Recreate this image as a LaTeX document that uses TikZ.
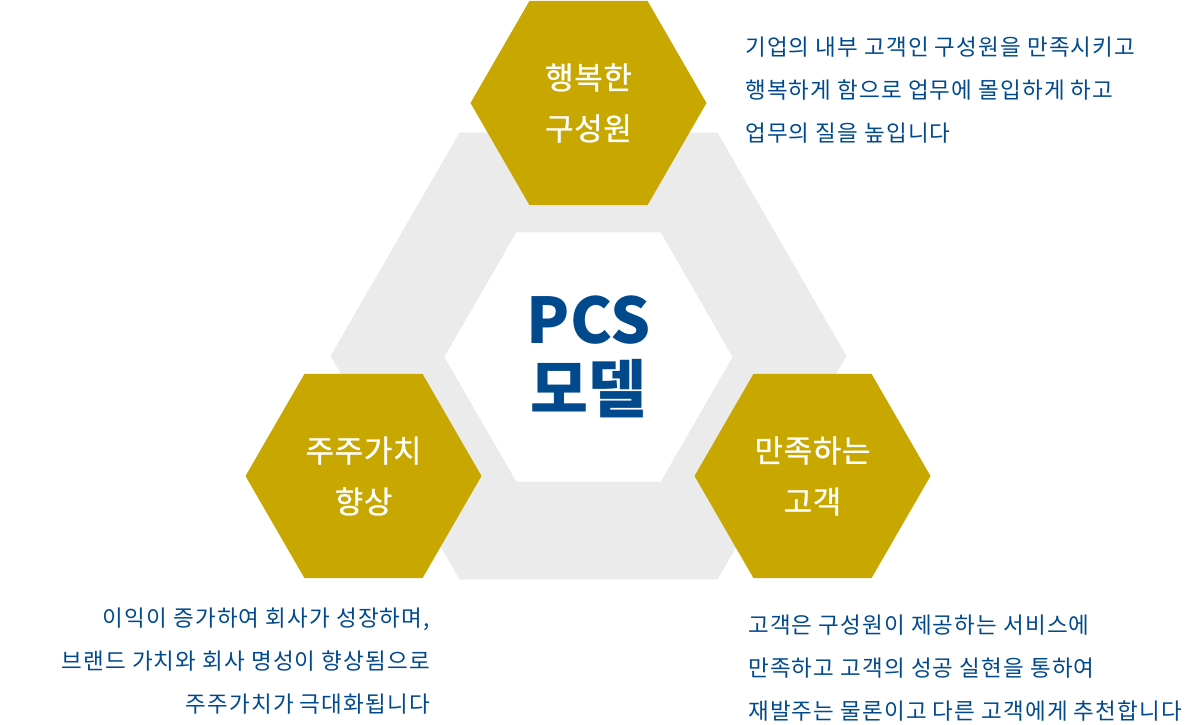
\documentclass[tikz,border=0pt]{standalone}
\usepackage{fontspec}
\setmainfont{Noto Sans CJK KR}
\newfontfamily\descfont[LetterSpace=5]{Noto Sans CJK KR}
\newfontfamily\hexfont[LetterSpace=2,FakeBold=0.8]{Noto Sans CJK KR}
\usetikzlibrary{shapes.geometric}
\definecolor{gold}{RGB}{200,168,0}
\definecolor{hexgray}{RGB}{235,235,235}
\definecolor{navy}{RGB}{0,73,140}
\begin{document}
\begin{tikzpicture}[x=1pt,y=-1pt,
  hexa/.style={regular polygon, regular polygon sides=6, inner sep=0pt, outer sep=0pt, draw=none},
  goldhex/.style={hexa, fill=gold, minimum size=236pt, text=white, align=center,
    font=\hexfont\fontsize{31}{51}\selectfont},
  desc/.style={text=navy, font=\descfont\fontsize{22.5}{43}\selectfont, inner sep=0pt}]
\useasboundingbox (0,0) rectangle (1186,724);
\node[hexa, fill=hexgray, minimum size=516pt] (ring) at (588.5,356) {};
\node[hexa, fill=white, minimum size=288pt, text=navy, align=center,
  font=\fontsize{63}{69}\selectfont\bfseries] (core) at (588.5,357) {PCS\\모델};
\node[goldhex] (staff) at (588.5,103) {행복한\\구성원};
\node[goldhex] (share) at (363.5,476) {주주가치\\향상};
\node[goldhex] (cust) at (812.5,476) {만족하는\\고객};
\node[desc, anchor=north west, align=left] (dstaff) at (745,37)
  {기업의 내부 고객인 구성원을 만족시키고\\행복하게 함으로 업무에 몰입하게 하고\\업무의 질을 높입니다};
\node[desc, anchor=north east, align=right] (dshare) at (430,608)
  {이익이 증가하여 회사가 성장하며,\\브랜드 가치와 회사 명성이 향상됨으로\\주주가치가 극대화됩니다};
\node[desc, anchor=north west, align=left] (dcust) at (748,615)
  {고객은 구성원이 제공하는 서비스에\\만족하고 고객의 성공 실현을 통하여\\재발주는 물론이고 다른 고객에게 추천합니다};
\end{tikzpicture}
\end{document}
